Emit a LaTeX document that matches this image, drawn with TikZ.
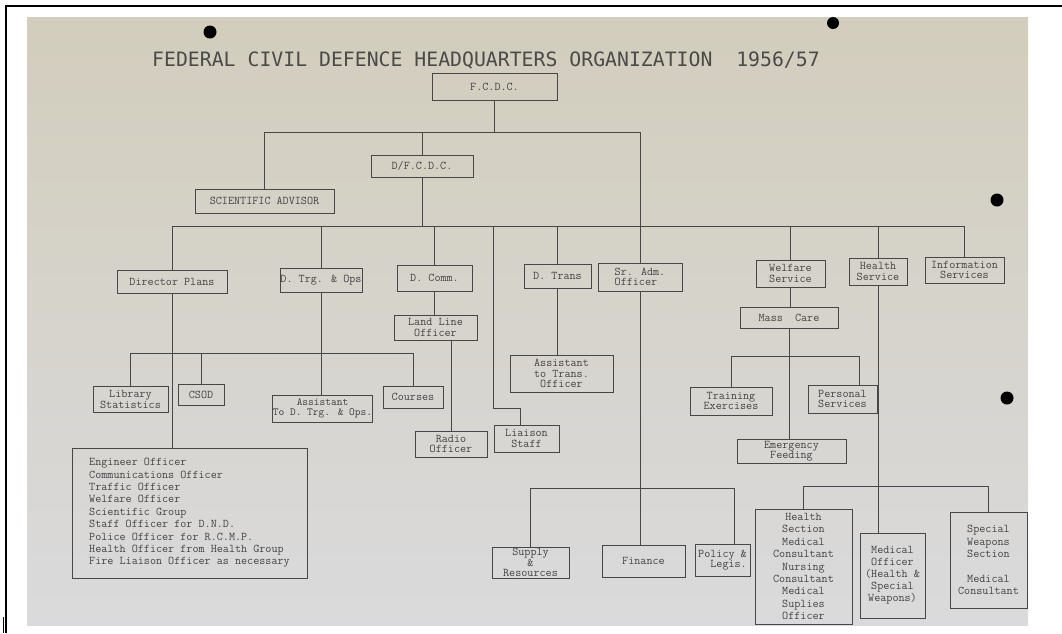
\documentclass[tikz,border=0pt]{standalone}
\usepackage{fontspec}
\newcommand{\tw}{\ttfamily}
\newfontfamily\ttlfont{DejaVu Sans Mono}
\definecolor{paperT}{HTML}{D2CDBC}
\definecolor{paperB}{HTML}{DADADC}
\definecolor{inkline}{HTML}{474747}
\definecolor{inktext}{HTML}{444444}
\definecolor{titleink}{HTML}{4A4A4A}
\tikzset{
 orgline/.style={draw=inkline, line width=0.9pt},
 orgbox/.style={draw=inkline, line width=0.9pt, inner sep=0pt, text=inktext, align=center, font=\tw\fontsize{11.8}{10.5}\selectfont},
 tight/.style={font=\tw\fontsize{11.8}{10}\selectfont},
 loose/.style={font=\tw\fontsize{11.8}{12.4}\selectfont},
}
\newcommand{\obox}[7][]{\node[orgbox, minimum width={(#5)-(#3)}, minimum height={(#6)-(#4)}, #1] (#2) at ({((#3)+(#5))/2},{((#4)+(#6))/2}) {#7};}
\begin{document}
\begin{tikzpicture}[x=1pt,y=-1pt]
\useasboundingbox (0,0) rectangle (1062,633);
% paper
\shade[top color=paperT, bottom color=paperB] (27,17) rectangle (1028,625);
% frame
\draw[black, line width=2pt] (5,6) -- (1062,6);
\draw[black, line width=1.5pt] (6,5) -- (6,633);
\draw[black, line width=0.6pt] (3,617) -- (3,633);
% punch holes
\fill[black] (210,32) circle (6.5);
\fill[black] (833,23) circle (6);
\fill[black] (997,200) circle (6.5);
\fill[black] (1007,398) circle (6.5);
% title
\node[font=\ttlfont\fontsize{19.8}{20}\selectfont, text=titleink, inner sep=0pt] (title) at (486,60) {FEDERAL CIVIL DEFENCE HEADQUARTERS ORGANIZATION\ \ 1956/57};
% boxes
\obox{fcdc}{432}{73}{557}{100}{F.C.D.C.}
\obox{dfcdc}{371}{155}{473}{177}{D/F.C.D.C.}
\obox{sci}{195}{189}{334}{213}{SCIENTIFIC ADVISOR}
\obox{dplans}{117}{270}{227}{293}{Director Plans}
\obox{dtrg}{280}{268}{362}{292}{D. Trg. \& Ops}
\obox{dcomm}{397}{265}{472}{291}{D. Comm.}
\obox{landline}{394}{315}{477}{340}{Land Line\\Officer}
\obox[tight]{radio}{415}{431}{487}{457}{Radio\\Officer}
\obox{liaison}{494}{425}{559}{452}{Liaison\\Staff}
\obox{dtrans}{524}{264}{591}{288}{D. Trans}
\obox[align=left]{sradm}{598}{263}{682}{291}{Sr. Adm.\\Officer}
\obox{asttrans}{510}{355}{613}{392}{Assistant\\to Trans.\\Officer}
\obox{welfare}{756}{260}{825}{287}{Welfare\\Service}
\obox{health}{849}{258}{907}{285}{Health\\Service}
\obox{info}{925}{257}{1004}{283}{Information\\Services}
\obox{masscare}{740}{307}{838}{328}{Mass\ \ Care}
\obox{training}{690}{387}{772}{415}{Training\\Exercises}
\obox{personal}{808}{385}{877}{413}{Personal\\Services}
\obox{emerg}{737}{439}{846}{463}{Emergency\\Feeding}
\obox[tight]{lib}{93}{386}{168}{412}{Library\\Statistics}
\obox{csod}{178}{384}{224}{405}{CSOD}
\obox[font=\tw\fontsize{10.9}{10}\selectfont]{astdtrg}{273}{395}{372}{422}{Assistant\\To D. Trg. \& Ops.}
\obox{courses}{383}{386}{443}{408}{Courses}
\obox[align=left, loose]{eng}{72}{448}{307}{578}{Engineer Officer\\Communications Officer\\Traffic Officer\\Welfare Officer\\Scientific Group\\Staff Officer for D.N.D.\\Police Officer for R.C.M.P.\\Health Officer from Health Group\\Fire Liaison Officer as necessary}
\obox[tight]{supply}{492}{547}{569}{578}{Supply\\\&\\Resources}
\obox{finance}{602}{545}{685}{577}{Finance}
\obox[align=right]{policy}{695}{544}{750}{576}{Policy \&\\Legis.}
\obox[loose]{hsec}{755}{509}{852}{624}{Health\\Section\\Medical\\Consultant\\Nursing\\Consultant\\Medical\\Suplies\\Officer}
\obox[font=\tw\fontsize{11.8}{12}\selectfont]{medoff}{860}{533}{925}{618}{Medical\\Officer\\(Health \&\\Special\\Weapons)}
\obox[font=\tw\fontsize{11.8}{12.4}\selectfont]{spw}{950}{512}{1027}{608}{Special\\Weapons\\Section\\[12.4pt]Medical\\Consultant}
% bar anchors
\coordinate (b1R) at (640,132);
\coordinate (b2) at (0,226);
\coordinate (sb) at (0,353);
\coordinate (lz) at (520,408);
\coordinate (pbar) at (859,356);
\coordinate (abar) at (734,488);
\coordinate (hb) at (0,486);
% top levels
\draw[orgline] (sci.north) |- (b1R) -- (sradm.north);
\draw[orgline] (fcdc.south) -- (fcdc.south |- b1R);
\draw[orgline] (dfcdc.north) -- (dfcdc.north |- b1R);
\draw[orgline] (dfcdc.south) -- (dfcdc.south |- b2);
\draw[orgline] (dplans.north) |- (info.north |- b2) -- (info.north);
\draw[orgline] (dtrg.north) -- (dtrg.north |- b2);
\draw[orgline] (dcomm.north) -- (dcomm.north |- b2);
\draw[orgline] (dtrans.north) -- (dtrans.north |- b2);
\draw[orgline] (welfare.north) -- (welfare.north |- b2);
\draw[orgline] (health.north) -- (health.north |- b2);
\draw[orgline] (liaison.north west |- b2) |- (lz) -- (lz |- liaison.north);
% lower levels
\draw[orgline] (dplans.south) -- (dplans.south |- eng.north);
\draw[orgline] (lib.north) |- (courses.north |- sb) -- (courses.north);
\draw[orgline] (csod.north) -- (csod.north |- sb);
\draw[orgline] (dtrg.south) -- (dtrg.south |- astdtrg.north);
\draw[orgline] (dcomm.south) -- (dcomm.south |- landline.north);
\draw[orgline] (radio.north) -- (radio.north |- landline.south);
\draw[orgline] (dtrans.south) -- (dtrans.south |- asttrans.north);
\draw[orgline] (welfare.south) -- (welfare.south |- masscare.north);
\draw[orgline] (masscare.south) -- (masscare.south |- emerg.north);
\draw[orgline] (training.north) |- (pbar) -- (pbar |- personal.north);
\draw[orgline] (health.south) -- (health.south |- medoff.north);
\draw[orgline] (hsec.north) |- (spw.north |- hb) -- (spw.north);
\draw[orgline] (sradm.south) -- (sradm.south |- finance.north);
\draw[orgline] (supply.north) |- (abar) -- (abar |- policy.north);
\end{tikzpicture}
\end{document}
